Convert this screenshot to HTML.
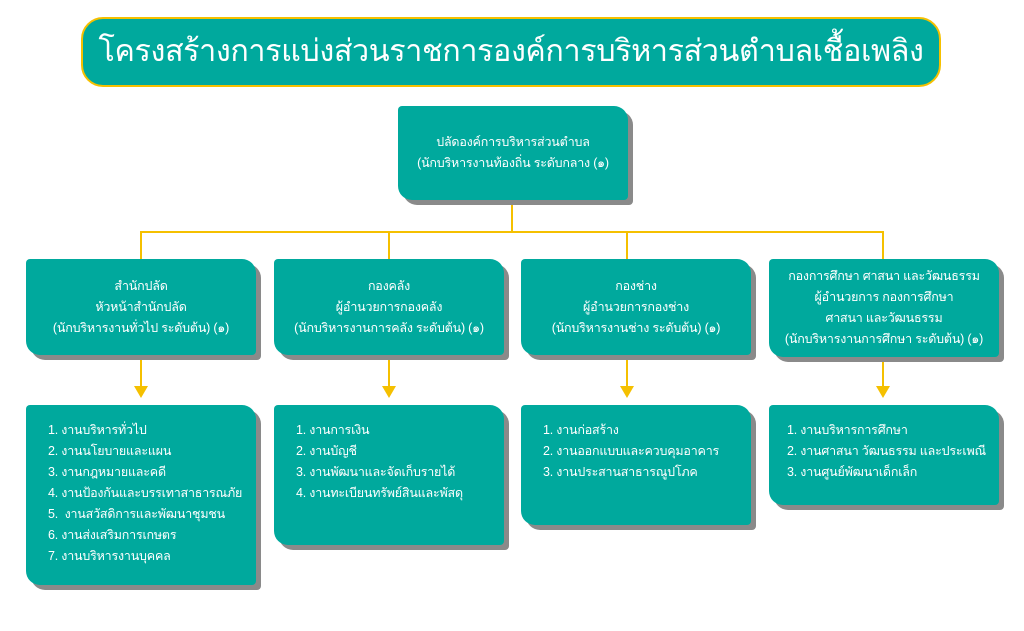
<!DOCTYPE html>
<html><head><meta charset="utf-8"><style>
body{margin:0;width:1024px;height:631px;background:#fff;position:relative;overflow:hidden;font-family:"Liberation Sans","Noto Sans CJK SC",sans-serif;color:#fff}
.t{position:absolute;left:81px;top:17px;width:856px;height:66px;background:#00a99d;border:2px solid #f5c000;border-radius:22px;font-size:30.5px;line-height:64px;text-align:center;white-space:nowrap;overflow:hidden;letter-spacing:-0.4px}
.b{position:absolute;background:#00a99d;border-radius:4px 14px 4px 14px;box-shadow:5px 5px 0 #8a8a8a;font-size:12.5px;line-height:21px;white-space:nowrap;letter-spacing:-0.2px}
.c{text-align:center;display:flex;flex-direction:column;justify-content:center}
.l{padding:15px 0 0 22px;box-sizing:border-box}
.y{position:absolute;background:#f5c000}
.ar{position:absolute;width:0;height:0;border-left:7px solid transparent;border-right:7px solid transparent;border-top:12px solid #f5c000}
</style></head><body>
<div class="t">โครงสร้างการแบ่งส่วนราชการองค์การบริหารส่วนตำบลเชื้อเพลิง</div>
<div class="y" style="left:511px;top:200px;width:2px;height:33px"></div>
<div class="y" style="left:140px;top:231px;width:744px;height:2px"></div>
<div class="y" style="left:140px;top:231px;width:2px;height:28px"></div>
<div class="y" style="left:388px;top:231px;width:2px;height:28px"></div>
<div class="y" style="left:626px;top:231px;width:2px;height:28px"></div>
<div class="y" style="left:882px;top:231px;width:2px;height:28px"></div>
<div class="y" style="left:140px;top:356px;width:2px;height:32px"></div>
<div class="y" style="left:388px;top:356px;width:2px;height:32px"></div>
<div class="y" style="left:626px;top:356px;width:2px;height:32px"></div>
<div class="y" style="left:882px;top:356px;width:2px;height:32px"></div>
<div class="ar" style="left:134px;top:386px"></div>
<div class="ar" style="left:382px;top:386px"></div>
<div class="ar" style="left:620px;top:386px"></div>
<div class="ar" style="left:876px;top:386px"></div>
<div class="b c" style="left:398px;top:106px;width:230px;height:94px">ปลัดองค์การบริหารส่วนตำบล<br>(นักบริหารงานท้องถิ่น ระดับกลาง (๑)</div>
<div class="b c" style="left:26px;top:259px;width:230px;height:96px">สำนักปลัด<br>หัวหน้าสำนักปลัด<br>(นักบริหารงานทั่วไป ระดับต้น) (๑)</div>
<div class="b c" style="left:274px;top:259px;width:230px;height:96px">กองคลัง<br>ผู้อำนวยการกองคลัง<br>(นักบริหารงานการคลัง ระดับต้น) (๑)</div>
<div class="b c" style="left:521px;top:259px;width:230px;height:96px">กองช่าง<br>ผู้อำนวยการกองช่าง<br>(นักบริหารงานช่าง ระดับต้น) (๑)</div>
<div class="b c" style="left:769px;top:259px;width:230px;height:98px">กองการศึกษา ศาสนา และวัฒนธรรม<br>ผู้อำนวยการ กองการศึกษา<br>ศาสนา และวัฒนธรรม<br>(นักบริหารงานการศึกษา ระดับต้น) (๑)</div>
<div class="b l" style="left:26px;top:405px;width:230px;height:180px">1. งานบริหารทั่วไป<br>2. งานนโยบายและแผน<br>3. งานกฎหมายและคดี<br>4. งานป้องกันและบรรเทาสาธารณภัย<br>5.&nbsp; งานสวัสดิการและพัฒนาชุมชน<br>6. งานส่งเสริมการเกษตร<br>7. งานบริหารงานบุคคล</div>
<div class="b l" style="left:274px;top:405px;width:230px;height:140px">1. งานการเงิน<br>2. งานบัญชี<br>3. งานพัฒนาและจัดเก็บรายได้<br>4. งานทะเบียนทรัพย์สินและพัสดุ</div>
<div class="b l" style="left:521px;top:405px;width:230px;height:120px">1. งานก่อสร้าง<br>2. งานออกแบบและควบคุมอาคาร<br>3. งานประสานสาธารณูปโภค</div>
<div class="b l" style="left:769px;top:405px;width:230px;height:100px;padding-left:18px">1. งานบริหารการศึกษา<br>2. งานศาสนา วัฒนธรรม และประเพณี<br>3. งานศูนย์พัฒนาเด็กเล็ก</div>
</body></html>
